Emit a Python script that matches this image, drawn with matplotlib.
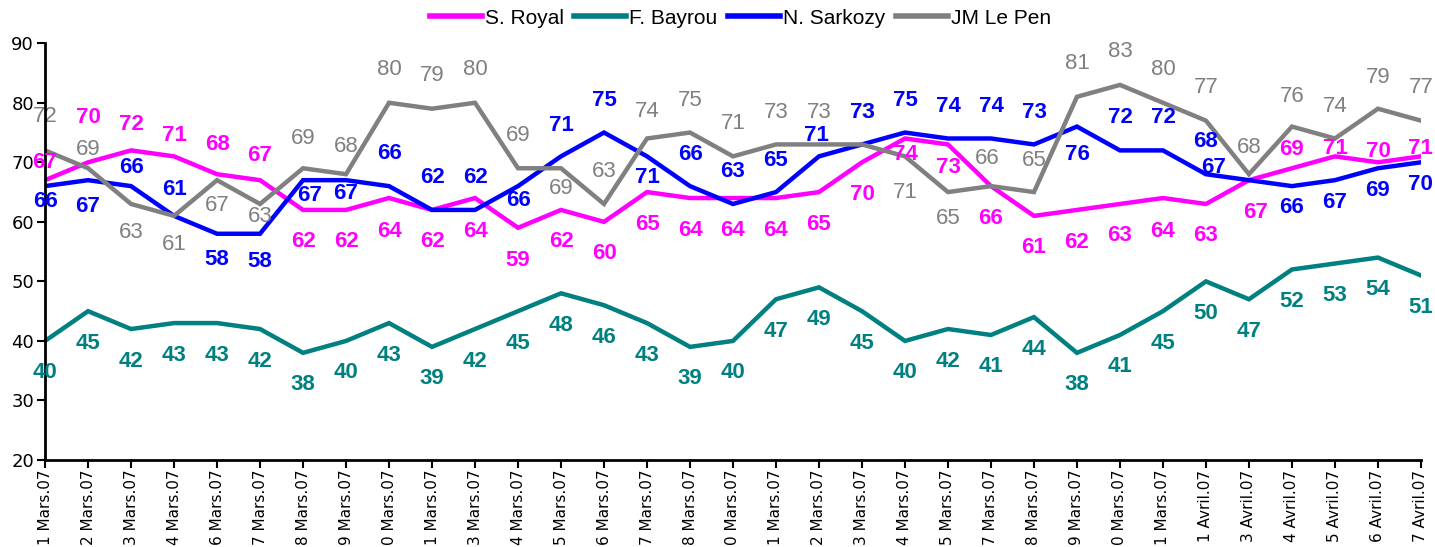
import matplotlib.pyplot as plt
import numpy as np

dates = ["1 Mars.07", "2 Mars.07", "3 Mars.07", "4 Mars.07", "6 Mars.07", "7 Mars.07",
         "8 Mars.07", "9 Mars.07", "0 Mars.07", "1 Mars.07", "3 Mars.07", "4 Mars.07",
         "5 Mars.07", "6 Mars.07", "7 Mars.07", "8 Mars.07", "0 Mars.07", "1 Mars.07",
         "2 Mars.07", "3 Mars.07", "4 Mars.07", "5 Mars.07", "7 Mars.07", "8 Mars.07",
         "9 Mars.07", "0 Mars.07", "1 Mars.07", "1 Avril.07", "3 Avril.07", "4 Avril.07",
         "5 Avril.07", "6 Avril.07", "7 Avril.07"]

royal = [67, 70, 72, 71, 68, 67, 62, 62, 64, 62, 64, 59, 62, 60, 65, 64, 64, 64, 65, 70,
         74, 73, 66, 61, 62, 63, 64, 63, 67, 69, 71, 70, 71]
bayrou = [40, 45, 42, 43, 43, 42, 38, 40, 43, 39, 42, 45, 48, 46, 43, 39, 40, 47, 49, 45,
          40, 42, 41, 44, 38, 41, 45, 50, 47, 52, 53, 54, 51]
sarkozy = [66, 67, 66, 61, 58, 58, 67, 67, 66, 62, 62, 66, 71, 75, 71, 66, 63, 65, 71, 73,
           75, 74, 74, 73, 76, 72, 72, 68, 67, 66, 67, 69, 70]
lepen = [72, 69, 63, 61, 67, 63, 69, 68, 80, 79, 80, 69, 69, 63, 74, 75, 71, 73, 73, 73,
         71, 65, 66, 65, 81, 83, 80, 77, 68, 76, 74, 79, 77]

# label placement (pixels below the point, negative = above)
royal_dy = [-18, -45, -26, -21, -30, -25, 32, 32, 33, 32, 33, 33, 32, 32, 32, 32, 32, 32,
            32, 32, 16, 23, 32, 32, 33, 32, 33, 32, 32, -19, -8, -11, -8]
bayrou_dy = [32] * 33
sarkozy_dy = [15, 26, -19, -26, 26, 28, 15, 13, -33, -32, -32, 14, -31, -32, 21, -32, -32,
              -32, -21, -32, -32, -32, -32, -32, 28, -33, -33, -33, -13, 21, 22, 22, 22]
lepen_dy = [-34, -19, 29, 29, 25, 13, -30, -28, -33, -33, -33, -33, 20, -32, -27, -32, -33,
            -32, -32, -32, 36, 26, -28, -32, -33, -33, -33, -33, -27, -30, -32, -31, -33]
royal_dx = {28: 7}
sarkozy_dx = {6: 7, 18: -3, 28: -35}
lepen_dx = {22: -4}

series = [
    ("S. Royal", royal, "#FF00FF", "bold", royal_dy, royal_dx, 3),
    ("F. Bayrou", bayrou, "#008080", "bold", bayrou_dy, {}, 3),
    ("N. Sarkozy", sarkozy, "#0000FF", "bold", sarkozy_dy, sarkozy_dx, 4),
    ("JM Le Pen", lepen, "#808080", "normal", lepen_dy, lepen_dx, 2),
]

fig = plt.figure(figsize=(14.35, 5.47), dpi=100)
ax = fig.add_axes([0.0314, 0.159, 0.9588, 0.762])
x = np.arange(len(dates))

for name, vals, col, weight, dy, dx, z in series:
    ax.plot(x, vals, color=col, lw=3.2, label=name, solid_joinstyle='miter')
    for i, v in enumerate(vals):
        ax.annotate(str(v), (x[i], v), xytext=(dx.get(i, 0), -dy[i]),
                    textcoords='offset pixels', ha='center', va='center',
                    fontsize=16, fontweight=weight, color=col,
                    family=['Liberation Sans', 'DejaVu Sans'], zorder=z,
                    annotation_clip=False)

ax.set_xlim(0, len(dates) - 1)
ax.set_ylim(20, 90)
ax.set_yticks(range(20, 91, 10))
ax.set_xticks(x)
ax.set_xticklabels(dates, rotation=90, fontsize=11)
ax.tick_params(axis='y', labelsize=13, length=6, width=1.5, direction='out', pad=2)
ax.tick_params(axis='x', length=6, width=1.5, direction='out', pad=1)
for s in ['top', 'right']:
    ax.spines[s].set_visible(False)
for s in ['left', 'bottom']:
    ax.spines[s].set_linewidth(2)
    ax.spines[s].set_color('black')

leg = fig.legend(loc='center', bbox_to_anchor=(0.516, 0.967), ncol=4, frameon=False,
                 prop={'family': ['Liberation Sans', 'DejaVu Sans'], 'size': 15},
                 handlelength=2.5, handletextpad=0.15, columnspacing=0.5)
for h in leg.get_lines():
    h.set_linewidth(4)

fig.savefig('out.png', dpi=100)
